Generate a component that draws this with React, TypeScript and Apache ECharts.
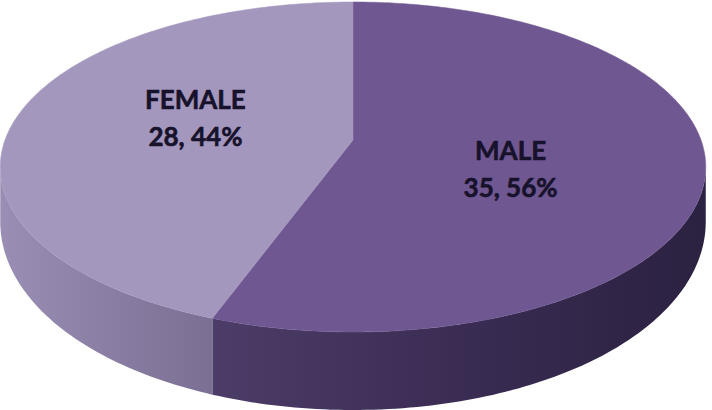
import React, { useEffect, useRef } from 'react';
import * as echarts from 'echarts';

// ---- data ----
const categories = ['MALE', 'FEMALE'];
const values = [35, 28];
const topColors = ['#6f5791', '#a497be'];
const sideStops = [
  ['#4c3d68', '#3a2c53', '#2b2140'],
  ['#9a8eb5', '#8a7ea4', '#7b6f93'],
];

// ---- projection (layout) ----
const CX = 353;
const CY = 140;
const A = 348;
const B = 160.6;
const K = 0.1636;

const total = values.reduce((s, v) => s + v, 0);

function proj(deg: number, f = 1): [number, number, number] {
  const r = (deg * Math.PI) / 180;
  const u = Math.sin(r) * f;
  const v = Math.cos(r) * f;
  const w = 1 + K * v;
  return [CX + (A * u) / w, CY - (B * v) / w, v];
}

function depthAt(v: number) {
  return 50 + 28 * Math.max(0, -v);
}

function sliceAngles(idx: number) {
  let before = 0;
  for (let i = 0; i < idx; i++) before += values[i];
  const a0 = (before / total) * 360;
  const a1 = ((before + values[idx]) / total) * 360;
  return [a0, a1];
}

function arcPoints(a0: number, a1: number) {
  const pts: [number, number, number][] = [];
  const n = Math.max(2, Math.ceil(Math.abs(a1 - a0)));
  for (let i = 0; i <= n; i++) pts.push(proj(a0 + ((a1 - a0) * i) / n));
  return pts;
}

const visStart = (Math.acos(-K) * 180) / Math.PI;
const visEnd = 360 - visStart;

export default function App() {
  const ref = useRef<HTMLDivElement>(null);
  useEffect(() => {
    if (!ref.current) return;
    const chart = echarts.init(ref.current, undefined, { renderer: 'svg' });
    const data = values.map((v, i) => ({ name: categories[i], value: v }));
    chart.setOption({
      animation: false,
      series: [
        {
          type: 'custom',
          coordinateSystem: 'none',
          z: 1,
          data,
          renderItem: (params: any, api: any) => {
            const idx = params.dataIndex;
            const [a0, a1] = sliceAngles(idx);
            const s = Math.max(a0, visStart);
            const e = Math.min(a1, visEnd);
            if (s >= e) return { type: 'group', children: [] };
            const top = arcPoints(s, e);
            const pts: number[][] = top.map((p) => [p[0], p[1]]);
            for (let i = top.length - 1; i >= 0; i--) {
              const p = top[i];
              pts.push([p[0], p[1] + depthAt(p[2])]);
            }
            const st = sideStops[idx];
            return {
              type: 'polygon',
              shape: { points: pts },
              style: {
                fill: new echarts.graphic.LinearGradient(0, 0, 1, 0, [
                  { offset: 0, color: st[0] },
                  { offset: 0.5, color: st[1] },
                  { offset: 1, color: st[2] },
                ]),
                stroke: null,
              },
            };
          },
        },
        {
          type: 'custom',
          coordinateSystem: 'none',
          z: 2,
          data,
          renderItem: (params: any, api: any) => {
            const idx = params.dataIndex;
            const [a0, a1] = sliceAngles(idx);
            const arc = arcPoints(a0, a1);
            const pts: number[][] = [[CX, CY]].concat(arc.map((p) => [p[0], p[1]]));
            const mid = (((a0 + a1) / 2) * Math.PI) / 180;
            const lx = CX + 160 * Math.sin(mid);
            const ly = 143 - 144 * Math.cos(mid);
            const val = api.value(0);
            const pct = Math.round((val / total) * 100);
            return {
              type: 'group',
              children: [
                {
                  type: 'polygon',
                  shape: { points: pts },
                  style: { fill: topColors[idx], stroke: topColors[idx], lineWidth: 0.5 },
                },
                {
                  type: 'text',
                  x: lx,
                  y: ly,
                  z2: 10,
                  style: {
                    text: categories[idx] + '\n' + val + ', ' + pct + '%',
                    fill: '#17122b',
                    stroke: '#17122b',
                    lineWidth: 0.6,
                    font: 'bold 26px Lato',
                    align: 'center',
                    verticalAlign: 'middle',
                    lineHeight: 37,
                  },
                },
              ],
            };
          },
        },
      ],
    });
    return () => chart.dispose();
  }, []);
  return (
    <div
      ref={ref}
      style={{ position: 'absolute', left: 0, top: 0, width: 712, height: 410, background: '#ffffff' }}
    />
  );
}
